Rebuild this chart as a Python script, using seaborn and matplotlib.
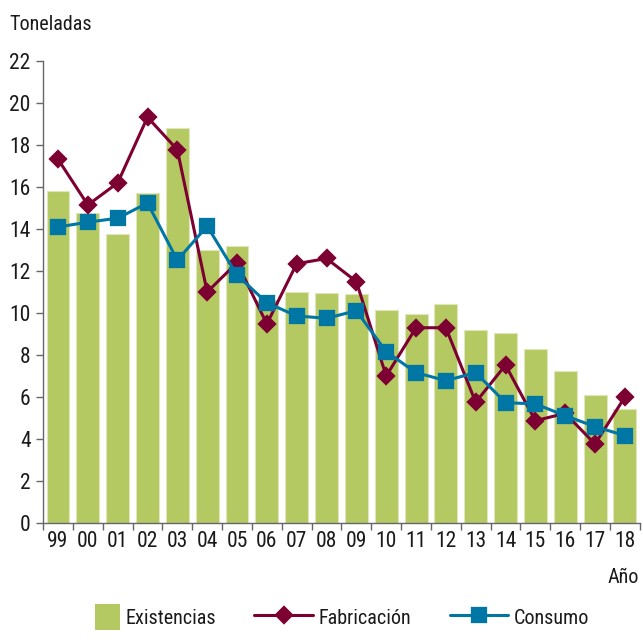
import numpy as np
import pandas as pd
import matplotlib.pyplot as plt
import seaborn as sns
from matplotlib.patches import Rectangle
from matplotlib.legend_handler import HandlerPatch

anios = ['99', '00', '01', '02', '03', '04', '05', '06', '07', '08',
         '09', '10', '11', '12', '13', '14', '15', '16', '17', '18']
existencias = [15.8, 14.75, 13.75, 15.7, 18.8, 13.0, 13.2, 10.6, 11.0, 10.95,
               10.9, 10.15, 9.95, 10.45, 9.2, 9.05, 8.3, 7.25, 6.1, 5.45]
fabricacion = [17.33, 15.15, 16.2, 19.33, 17.78, 11.0, 12.4, 9.48, 12.35, 12.6,
               11.5, 7.0, 9.3, 9.3, 5.75, 7.52, 4.87, 5.22, 3.76, 6.0]
consumo = [14.1, 14.33, 14.52, 15.24, 12.52, 14.14, 11.81, 10.49, 9.86, 9.75,
           10.11, 8.16, 7.16, 6.78, 7.16, 5.73, 5.67, 5.11, 4.59, 4.16]

verde = '#b5c962'

sns.set_style('white')
plt.rcParams['font.family'] = ['Liberation Sans Narrow', 'Roboto Condensed', 'Roboto', 'DejaVu Sans']

df = pd.DataFrame({'anio': anios, 'existencias': existencias,
                   'fabricacion': fabricacion, 'consumo': consumo})

fig = plt.figure(figsize=(6.43, 6.44), dpi=100)
ax = fig.add_axes([0.067, 0.188, 0.928, 0.717])

sns.barplot(data=df, x='anio', y='existencias', color=verde, saturation=1,
            width=0.77, edgecolor='#dfe6bb', linewidth=0.8, label='Existencias', ax=ax)
sns.pointplot(data=df, x='anio', y='fabricacion', color='#7d0032', marker='D',
              markersize=8.5, linewidth=2.2, label='Fabricación', ax=ax)
sns.pointplot(data=df, x='anio', y='consumo', color='#0076a5', marker='s',
              markersize=9.5, linewidth=2.2, label='Consumo', ax=ax)

handles, labels = ax.get_legend_handles_labels()
if ax.get_legend() is not None:
    ax.get_legend().remove()
orden = ['Existencias', 'Fabricación', 'Consumo']
h = [handles[labels.index(l)] for l in orden]
h[0] = Rectangle((0, 0), 1, 1, facecolor=verde, edgecolor='none')

ax.set_xlim(-0.5, len(anios) - 0.5)
ax.set_ylim(0, 22)
ax.set_yticks(np.arange(0, 23, 2))
ax.set_xlabel('')
ax.set_ylabel('')
ax.set_xticks(np.arange(-0.5, len(anios), 1), minor=True)
ax.tick_params(axis='x', which='major', length=0, pad=6, labelsize=15.5, colors='#1a1a1a')
ax.tick_params(axis='x', which='minor', length=5, width=1, color='#666666', bottom=True)
ax.tick_params(axis='y', length=5, width=1, color='#666666', left=True, labelsize=15.5,
               labelcolor='#1a1a1a', pad=4)
for s in ['top', 'right']:
    ax.spines[s].set_visible(False)
for s in ['left', 'bottom']:
    ax.spines[s].set_color('#666666')
    ax.spines[s].set_linewidth(1)

fig.text(0.015, 0.962, 'Toneladas', fontsize=14.5, color='#1a1a1a', va='center')
fig.text(0.993, 0.103, 'Año', fontsize=14.5, color='#1a1a1a', va='center', ha='right')


def caja(legend, orig_handle, xdescent, ydescent, width, height, fontsize):
    w = 25 * 72 / 100
    hh = 26 * 72 / 100
    return Rectangle((width - xdescent - w, -ydescent + height / 2 - hh / 2), w, hh)


leg = fig.legend(h, orden, loc='center', bbox_to_anchor=(0.506, 0.042), ncol=3, frameon=False,
                 fontsize=14.5, handlelength=2.9, handleheight=1.3, columnspacing=1.9,
                 handletextpad=0.3, handler_map={h[0]: HandlerPatch(patch_func=caja)})
for t in leg.get_texts():
    t.set_color('#1a1a1a')

fig.savefig('out.png', dpi=100)
